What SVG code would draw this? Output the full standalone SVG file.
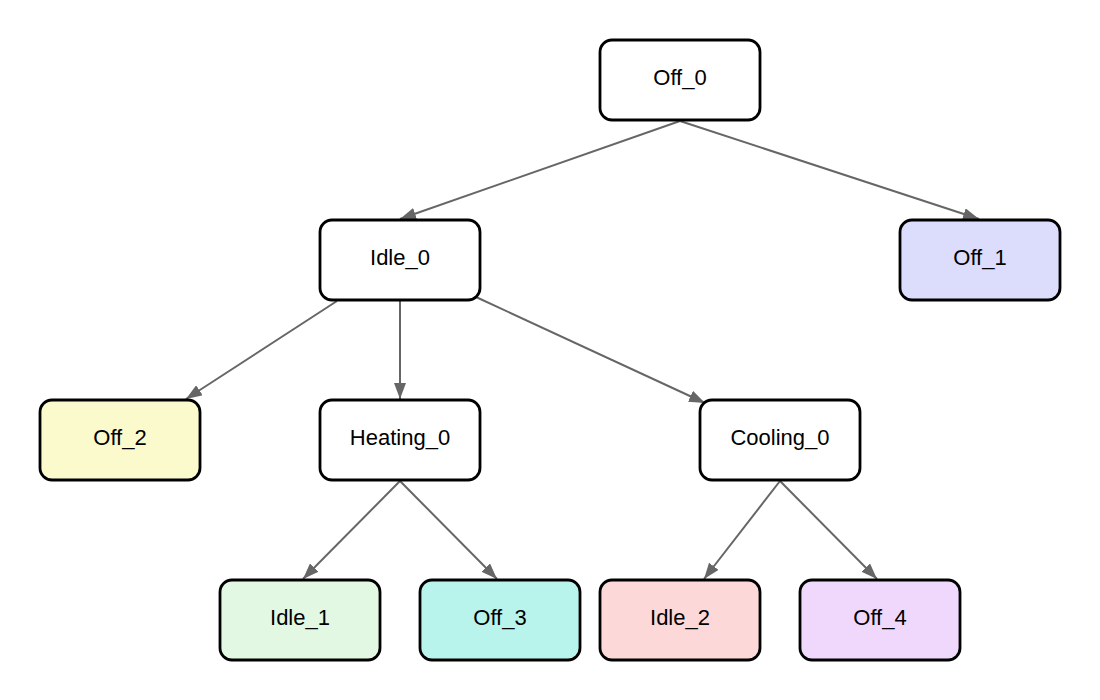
<svg xmlns="http://www.w3.org/2000/svg" width="1100" height="700" viewBox="0 0 1100 700">
<style>
.node rect{stroke:#000;stroke-width:2.8}
.node text{font-family:"Liberation Sans",Arial,sans-serif;font-size:22px;fill:#000;text-anchor:middle;dominant-baseline:central}
.edge{stroke:#666;stroke-width:2;fill:none;marker-end:url(#arr)}
</style>
<defs>
<marker id="arr" viewBox="0 0 16 12" refX="16" refY="6" markerWidth="16" markerHeight="12" markerUnits="userSpaceOnUse" orient="auto">
<path d="M0,0 L16,6 L0,12 Z" fill="#666"/>
</marker>
</defs>
<rect width="1100" height="700" fill="#fff"/>
<g id="connectors">
<line class="edge" x1="680" y1="121" x2="400" y2="219"/>
<line class="edge" x1="680" y1="121" x2="979" y2="219"/>
<line class="edge" x1="337" y1="301" x2="186" y2="399"/>
<line class="edge" x1="400" y1="301" x2="400" y2="399"/>
<line class="edge" x1="476" y1="297" x2="705" y2="403"/>
<line class="edge" x1="400" y1="481" x2="303" y2="579"/>
<line class="edge" x1="400" y1="481" x2="497" y2="579"/>
<line class="edge" x1="780" y1="481" x2="704" y2="579"/>
<line class="edge" x1="780" y1="481" x2="877" y2="579"/>
</g>
<g id="Off_0" class="node"><rect x="600" y="40" width="160" height="80" rx="12" fill="#fff"/><text x="680" y="77">Off_0</text></g>
<g id="Idle_0" class="node"><rect x="320" y="220" width="160" height="80" rx="12" fill="#fff"/><text x="400" y="257">Idle_0</text></g>
<g id="Off_1" class="node"><rect x="900" y="220" width="160" height="80" rx="12" fill="#dcdcfc"/><text x="980" y="257">Off_1</text></g>
<g id="Off_2" class="node"><rect x="40" y="400" width="160" height="80" rx="12" fill="#fafacd"/><text x="120" y="437">Off_2</text></g>
<g id="Heating_0" class="node"><rect x="320" y="400" width="160" height="80" rx="12" fill="#fff"/><text x="400" y="437">Heating_0</text></g>
<g id="Cooling_0" class="node"><rect x="700" y="400" width="160" height="80" rx="12" fill="#fff"/><text x="780" y="437">Cooling_0</text></g>
<g id="Idle_1" class="node"><rect x="220" y="580" width="160" height="80" rx="12" fill="#e2f8e2"/><text x="300" y="617">Idle_1</text></g>
<g id="Off_3" class="node"><rect x="420" y="580" width="160" height="80" rx="12" fill="#b8f4ec"/><text x="500" y="617">Off_3</text></g>
<g id="Idle_2" class="node"><rect x="600" y="580" width="160" height="80" rx="12" fill="#fdd8d8"/><text x="680" y="617">Idle_2</text></g>
<g id="Off_4" class="node"><rect x="800" y="580" width="160" height="80" rx="12" fill="#f0d8fc"/><text x="880" y="617">Off_4</text></g>
</svg>
